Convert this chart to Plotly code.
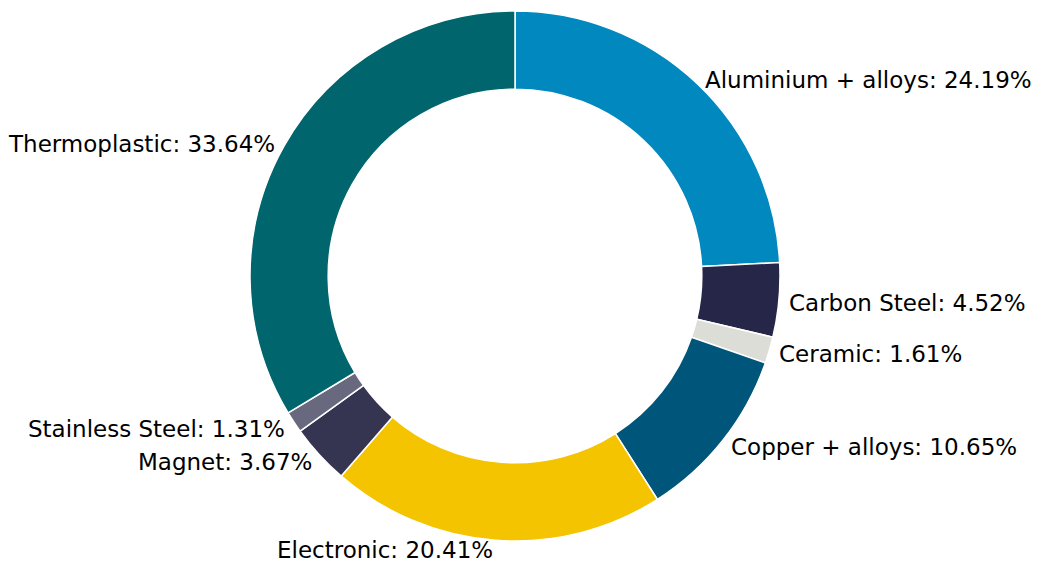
import math
import plotly.graph_objects as go

labels = ["Aluminium + alloys", "Carbon Steel", "Ceramic", "Copper + alloys",
          "Electronic", "Magnet", "Stainless Steel", "Thermoplastic"]
values = [24.19, 4.52, 1.61, 10.65, 20.41, 3.67, 1.31, 33.64]
colors = ["#0088BF", "#262649", "#DDDDD8", "#00557A",
          "#F5C400", "#353552", "#68687F", "#00656D"]

W, H = 1038, 566
cx, cy, R = 515, 276, 265
r_lab = R * 1.03

fig = go.Figure(go.Pie(
    labels=labels, values=values, sort=False, direction="clockwise", rotation=0,
    hole=0.705, marker=dict(colors=colors, line=dict(color="white", width=1.5)),
    textinfo="none", hoverinfo="label+percent", showlegend=False,
    domain=dict(x=[(cx - R) / W, (cx + R) / W], y=[(H - cy - R) / H, (H - cy + R) / H]),
))

total = sum(values)
cum = 0.0
for lab, v in zip(labels, values):
    mid = cum + v / 2
    cum += v
    ang = math.radians(90 - 360 * mid / total)
    px = cx + r_lab * math.cos(ang)
    py = cy - r_lab * math.sin(ang) + 2
    fig.add_annotation(
        x=px / W, y=1 - py / H, xref="paper", yref="paper",
        text=f"{lab}: {100 * v / total:.2f}%", showarrow=False,
        xanchor="left" if math.cos(ang) > 0 else "right", yanchor="middle",
        font=dict(family="DejaVu Sans", size=23, color="black"),
    )

fig.update_layout(width=W, height=H, margin=dict(l=0, r=0, t=0, b=0),
                  paper_bgcolor="white", plot_bgcolor="white")
fig.write_html("out.html", config={"displayModeBar": False},
               post_script="document.body.style.margin='0';document.body.style.overflow='hidden';")
